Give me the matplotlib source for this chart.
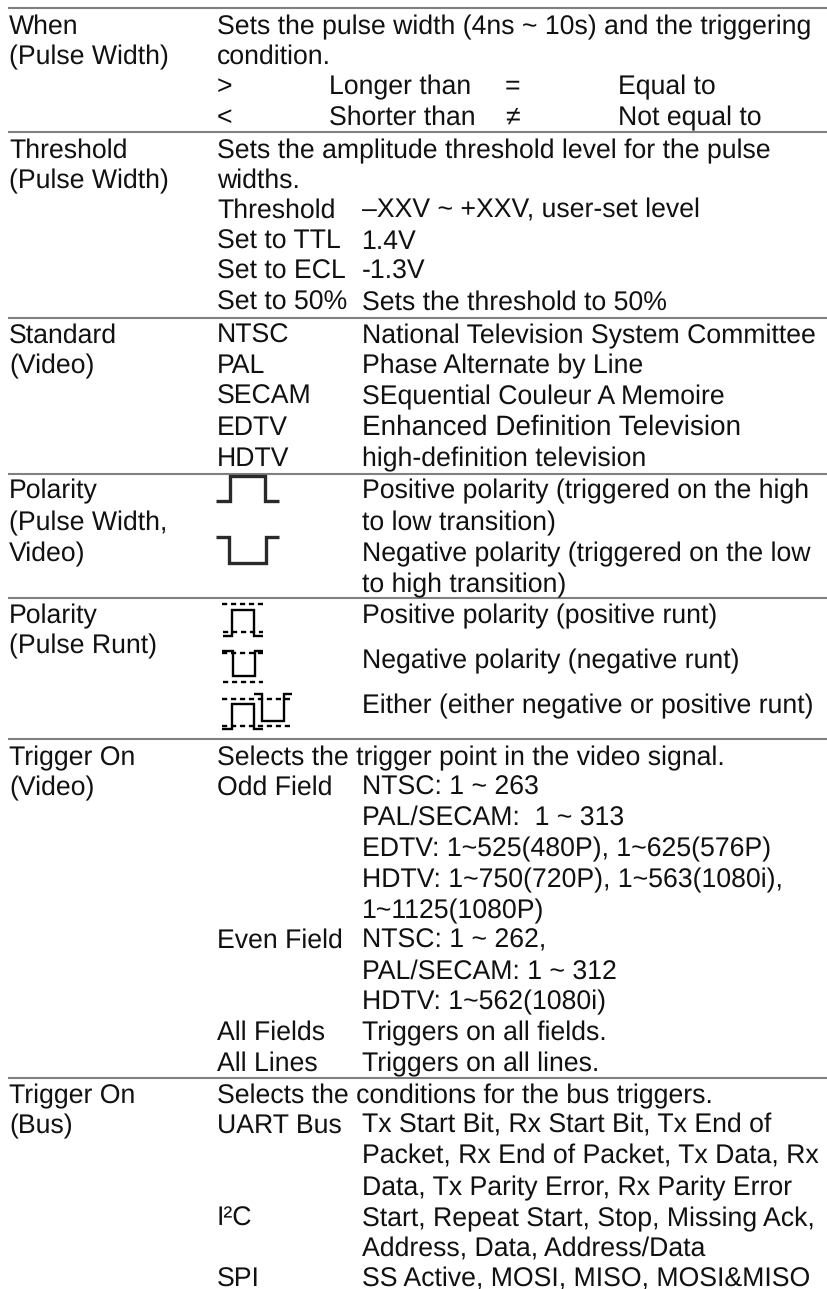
import matplotlib
matplotlib.use("Agg")
import matplotlib.pyplot as plt

plt.rcParams["font.family"] = ["Liberation Sans", "DejaVu Sans"]
plt.rcParams["text.hinting"] = "no_hinting"

# table rules (y in pixels)
rule_y = [8, 132, 318, 474, 598, 739, 1078]

# first column
col1_text = ["When", "(Pulse Width)", "Threshold", "(Pulse Width)", "Standard", "(Video)",
             "Polarity", "(Pulse Width,", "Video)", "Polarity", "(Pulse Runt)",
             "Trigger On", "(Video)", "Trigger On", "(Bus)"]
col1_y = [34, 64, 158, 188, 343, 373, 498, 530, 561, 623, 653, 765, 795, 1103, 1133]

# second column, also the full width sentences
col2_text = ["Sets the pulse width (4ns ~ 10s) and the triggering", "condition.", ">", "<",
             "Sets the amplitude threshold level for the pulse", "widths.",
             "Threshold", "Set to TTL", "Set to ECL", "Set to 50%",
             "NTSC", "PAL", "SECAM", "EDTV", "HDTV",
             "Selects the trigger point in the video signal.", "Odd Field", "Even Field",
             "All Fields", "All Lines",
             "Selects the conditions for the bus triggers.", "UART Bus", "I²C", "SPI"]
col2_y = [34, 64, 94, 125, 158, 188, 218, 249, 279, 310, 343, 373, 404, 435, 466,
          765, 795, 948, 1040, 1071, 1103, 1133, 1226, 1287]

# third column
col3_text = ["–XXV ~ +XXV, user-set level", "1.4V", "-1.3V", "Sets the threshold to 50%",
             "National Television System Committee", "Phase Alternate by Line",
             "SEquential Couleur A Memoire", "Enhanced Definition Television",
             "high-definition television",
             "Positive polarity (triggered on the high", "to low transition)",
             "Negative polarity (triggered on the low", "to high transition)",
             "Positive polarity (positive runt)", "Negative polarity (negative runt)",
             "Either (either negative or positive runt)",
             "NTSC: 1 ~ 263", "PAL/SECAM:  1 ~ 313", "EDTV: 1~525(480P), 1~625(576P)",
             "HDTV: 1~750(720P), 1~563(1080i),", "1~1125(1080P)",
             "NTSC: 1 ~ 262,", "PAL/SECAM: 1 ~ 312", "HDTV: 1~562(1080i)",
             "Triggers on all fields.", "Triggers on all lines.",
             "Tx Start Bit, Rx Start Bit, Tx End of", "Packet, Rx End of Packet, Tx Data, Rx",
             "Data, Tx Parity Error, Rx Parity Error",
             "Start, Repeat Start, Stop, Missing Ack,", "Address, Data, Address/Data",
             "SS Active, MOSI, MISO, MOSI&MISO"]
col3_y = [218, 249, 279, 310, 343, 373, 404, 435, 466, 498, 530, 561, 592, 623, 668, 713,
          795, 825, 856, 887, 918, 948, 979, 1009, 1040, 1071, 1133, 1164, 1195, 1226, 1257, 1287]

# the comparison table in the first row
when_text = ["Longer than", "Shorter than", "=", "≠", "Equal to", "Not equal to"]
when_x = [329, 329, 505, 505, 618, 618]
when_y = [94, 125, 94, 125, 94, 125]

# polarity symbols: solid traces
pulse_pos = ([216, 230, 230, 265, 265, 279], [501, 501, 476, 476, 501, 501])
pulse_neg = ([216, 229, 229, 266, 266, 279], [537, 537, 563, 563, 537, 537])
runt_traces = [
    ([223, 232, 232, 254, 254, 263], [636, 636, 610, 610, 636, 636]),
    ([222, 233, 233, 255, 255, 263], [651, 651, 676, 676, 651, 651]),
    ([222, 232, 232, 254, 254, 263], [729, 729, 704, 704, 729, 729]),
    ([254, 262, 262, 284, 284, 292], [694, 694, 721, 721, 694, 694]),
]
# polarity symbols: dotted levels (x0, x1, y)
runt_levels = [(222, 263, 604), (223, 263, 632), (222, 263, 653), (223, 263, 682),
               (222, 292, 699), (222, 292, 726)]

fig = plt.figure(figsize=(8.28, 12.89), dpi=100)
ax = fig.add_axes([0, 0, 1, 1])
ax.set_xlim(0, 828)
ax.set_ylim(1289, 0)
ax.axis("off")

for y in rule_y:
    ax.plot([8, 828], [y, y], color="#808080", lw=1.5, solid_capstyle="butt")

font_size = 19.2
for text, y in zip(col1_text, col1_y):
    ax.text(9, y, text, fontsize=font_size, va="baseline", color="#111111")
for text, y in zip(col2_text, col2_y):
    ax.text(217, y, text, fontsize=font_size, va="baseline", color="#111111")
for text, y in zip(col3_text, col3_y):
    # this one line is set a little larger in the original
    size = 20.1 if text.startswith("Enhanced") else font_size
    ax.text(362, y, text, fontsize=size, va="baseline", color="#111111")
for text, x, y in zip(when_text, when_x, when_y):
    ax.text(x, y, text, fontsize=font_size, va="baseline", color="#111111")

for xs, ys in (pulse_pos, pulse_neg):
    ax.plot(xs, ys, color="#2a2a2a", lw=2.4, solid_joinstyle="miter", solid_capstyle="butt")
for xs, ys in runt_traces:
    ax.plot(xs, ys, color="black", lw=1.7, solid_joinstyle="miter", solid_capstyle="butt")
for x0, x1, y in runt_levels:
    ax.plot([x0, x1], [y, y], color="black", lw=1.7, dashes=(2.2, 1.6))

fig.savefig("out.png", dpi=100)
